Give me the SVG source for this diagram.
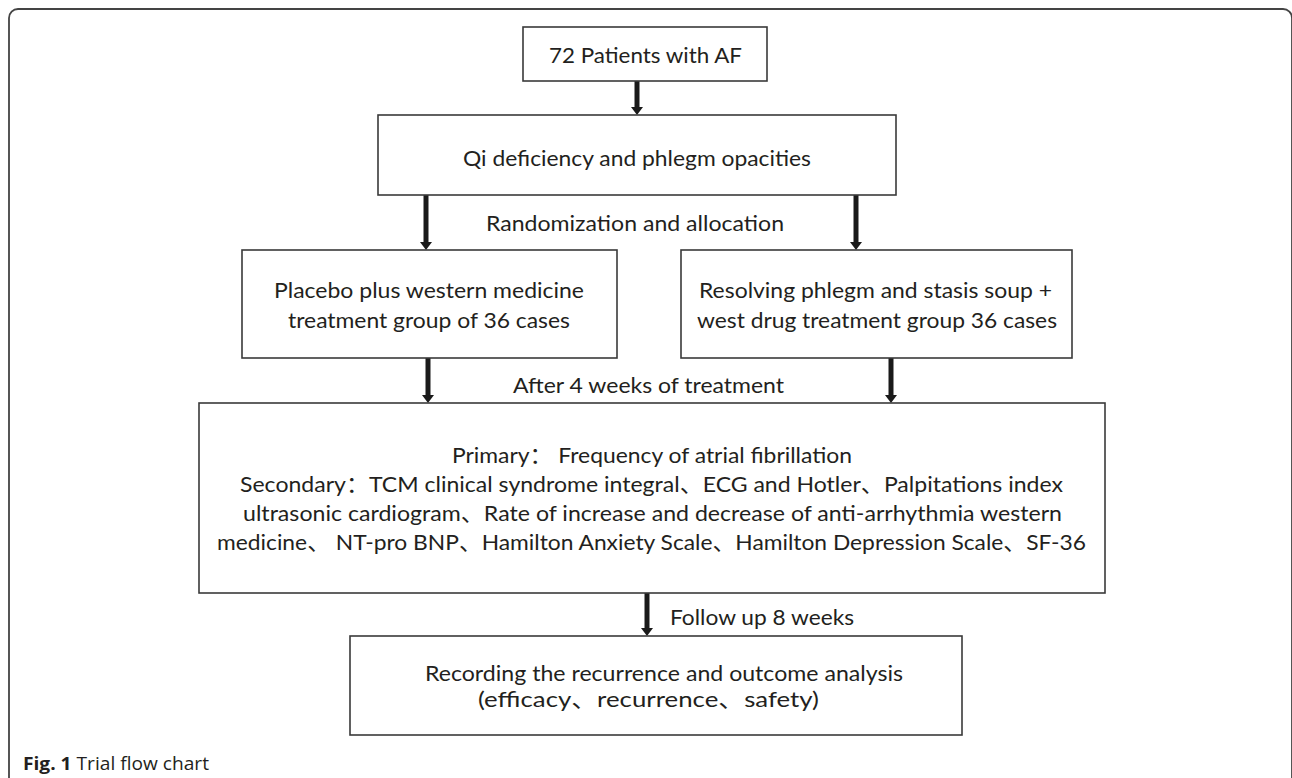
<svg xmlns="http://www.w3.org/2000/svg" width="1292" height="778" viewBox="0 0 1292 778">
<style>
.box{fill:#fff;stroke:#3a3a3a;stroke-width:1.6}
.t{font-family:Lato,"Liberation Sans","Noto Sans CJK SC",sans-serif;font-size:22px;fill:#231f20}
.shaft{stroke:#1a1a1a;stroke-width:5;fill:none}
.head{fill:#1a1a1a}
.cap{font-family:"Open Sans","Liberation Sans",sans-serif;font-size:18px;fill:#231f20}
</style>
<defs>
<path id="ah" class="head" d="M-6,-8 H6 L0,0 Z"/>
</defs>
<rect x="9" y="9" width="1283" height="800" rx="9" fill="none" stroke="#444" stroke-width="1.8"/>
<g id="connectors">
<path class="shaft" d="M637,81 V108"/>
<use href="#ah" x="637" y="115"/>
<path class="shaft" d="M426,195 V243"/>
<use href="#ah" x="426" y="250"/>
<path class="shaft" d="M856,195 V243"/>
<use href="#ah" x="856" y="250"/>
<path class="shaft" d="M428,358 V396"/>
<use href="#ah" x="428" y="403"/>
<path class="shaft" d="M891,358 V396"/>
<use href="#ah" x="891" y="403"/>
<path class="shaft" d="M647,593 V629"/>
<use href="#ah" x="647" y="636"/>
<text class="t" x="486" y="231" textLength="298" lengthAdjust="spacingAndGlyphs">Randomization and allocation</text>
<text class="t" x="513" y="393" textLength="271" lengthAdjust="spacingAndGlyphs">After 4 weeks of treatment</text>
<text class="t" x="670" y="625" textLength="184" lengthAdjust="spacingAndGlyphs">Follow up 8 weeks</text>
</g>
<g id="n1">
<rect class="box" x="523" y="27" width="244" height="54"/>
<text class="t" x="549" y="63" textLength="193" lengthAdjust="spacingAndGlyphs">72 Patients with AF</text>
</g>
<g id="n2">
<rect class="box" x="378" y="115" width="518" height="80"/>
<text class="t" x="463" y="166" textLength="348" lengthAdjust="spacingAndGlyphs">Qi deficiency and phlegm opacities</text>
</g>
<g id="n3">
<rect class="box" x="242" y="250" width="375" height="108"/>
<text class="t" x="274" y="298" textLength="310" lengthAdjust="spacingAndGlyphs">Placebo plus western medicine</text>
<text class="t" x="288" y="328" textLength="282" lengthAdjust="spacingAndGlyphs">treatment group of 36 cases</text>
</g>
<g id="n4">
<rect class="box" x="681" y="250" width="391" height="108"/>
<text class="t" x="699" y="298" textLength="353" lengthAdjust="spacingAndGlyphs">Resolving phlegm and stasis soup +</text>
<text class="t" x="697" y="328" textLength="360" lengthAdjust="spacingAndGlyphs">west drug treatment group 36 cases</text>
</g>
<g id="n5">
<rect class="box" x="199" y="403" width="906" height="190"/>
<text class="t" x="452" y="463" textLength="400" lengthAdjust="spacingAndGlyphs">Primary：  Frequency of atrial fibrillation</text>
<text class="t" x="240" y="492" textLength="823" lengthAdjust="spacingAndGlyphs">Secondary：TCM clinical syndrome integral、ECG and  Hotler、Palpitations index</text>
<text class="t" x="243" y="521" textLength="819" lengthAdjust="spacingAndGlyphs">ultrasonic cardiogram、Rate of increase and decrease of anti-arrhythmia western</text>
<text class="t" x="217" y="550" textLength="869" lengthAdjust="spacingAndGlyphs">medicine、 NT-pro BNP、Hamilton Anxiety Scale、Hamilton Depression Scale、SF-36</text>
</g>
<g id="n6">
<rect class="box" x="350" y="636" width="612" height="99"/>
<text class="t" x="425" y="681" textLength="478" lengthAdjust="spacingAndGlyphs">Recording the recurrence and outcome analysis</text>
<text class="t" x="478" y="707" textLength="341" lengthAdjust="spacingAndGlyphs">(efficacy、recurrence、safety)</text>
</g>
<text class="cap" x="23" y="770" textLength="186" lengthAdjust="spacingAndGlyphs"><tspan font-weight="bold">Fig. 1</tspan> Trial flow chart</text>
</svg>
